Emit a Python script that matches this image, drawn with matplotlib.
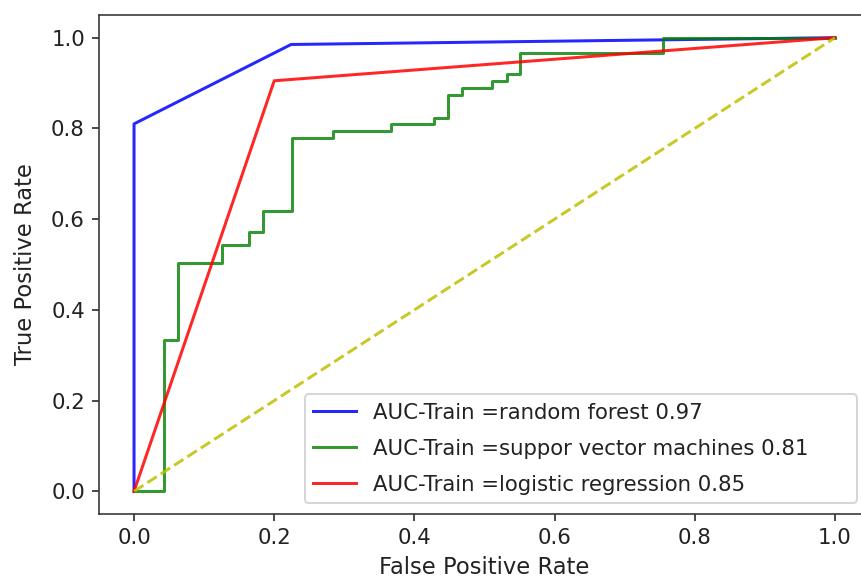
import matplotlib
matplotlib.use("Agg")
import matplotlib.pyplot as plt

# Random forest ROC
rf_fpr = [0.0, 0.0, 0.224, 1.0]
rf_tpr = [0.0, 0.81, 0.985, 1.0]

# SVM ROC (step curve)
svm_fpr = [0.0, 0.043, 0.043, 0.063, 0.063, 0.126, 0.126, 0.164, 0.164, 0.184, 0.184,
           0.226, 0.226, 0.284, 0.284, 0.367, 0.367, 0.428, 0.428, 0.448, 0.448,
           0.468, 0.468, 0.511, 0.511, 0.532, 0.532, 0.550, 0.550, 0.754, 0.754, 1.0]
svm_tpr = [0.0, 0.0, 0.333, 0.333, 0.504, 0.504, 0.542, 0.542, 0.571, 0.571, 0.617,
           0.617, 0.779, 0.779, 0.795, 0.795, 0.810, 0.810, 0.824, 0.824, 0.874,
           0.874, 0.889, 0.889, 0.905, 0.905, 0.920, 0.920, 0.966, 0.966, 1.0, 1.0]

# Logistic regression ROC
lr_fpr = [0.0, 0.2, 1.0]
lr_tpr = [0.0, 0.905, 1.0]

diag = [0.0, 1.0]

labels = ["AUC-Train =random forest 0.97",
          "AUC-Train =suppor vector machines 0.81",
          "AUC-Train =logistic regression 0.85"]

dpi = 144
fig = plt.figure(figsize=(861 / dpi, 585 / dpi), dpi=dpi)
ax = fig.add_axes([99 / 861, (585 - 514) / 585, 771 / 861, 499 / 585])

ax.plot(rf_fpr, rf_tpr, color="b", alpha=0.85, label=labels[0])
ax.plot(svm_fpr, svm_tpr, color="g", alpha=0.8, label=labels[1])
ax.plot(lr_fpr, lr_tpr, color="r", alpha=0.85, label=labels[2])
ax.plot(diag, diag, color="y", alpha=0.85, linestyle="--")

for s in ax.spines.values():
    s.set_edgecolor("#333333")
ax.tick_params(labelsize=10.6, colors="#222222")
ax.set_xlabel("False Positive Rate", fontsize=11.3, color="#222222")
ax.set_ylabel("True Positive Rate", fontsize=11.3, color="#222222", labelpad=7)
leg = ax.legend(loc="lower left", fontsize=10.6, labelspacing=0.75,
                bbox_to_anchor=(0.267, 0.022, 0.716, 0.25), mode="expand",
                borderaxespad=0)
for t in leg.get_texts():
    t.set_color("#222222")

fig.savefig("out.png", dpi=dpi)
